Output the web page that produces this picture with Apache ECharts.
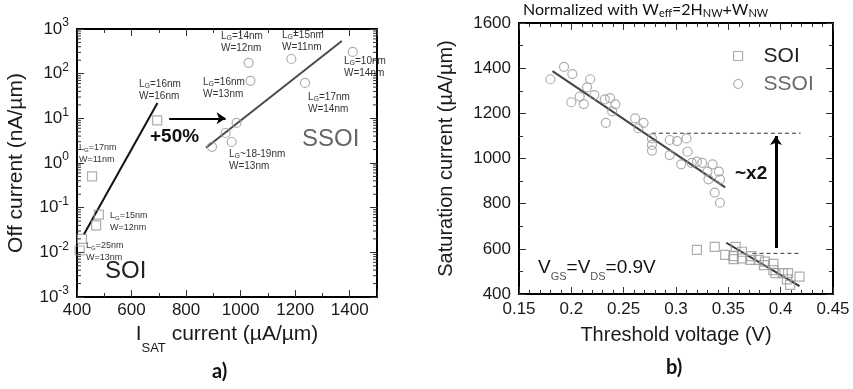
<!DOCTYPE html>
<html>
<head>
<meta charset="utf-8">
<script src="https://cdn.jsdelivr.net/npm/echarts@6/dist/echarts.min.js"></script>
<style>
  html, body { margin: 0; padding: 0; background: #fff; }
  #chart { width: 853px; height: 389px; }
</style>
</head>
<body>
<div id="chart"></div>
<script>
// ---------- panel a): off current vs. saturation current ----------
const aSoiIsat  = [694, 455, 480, 470, 418, 410];
const aSoiIoff  = [9, 0.5, 0.07, 0.04, 0.02, 0.011];
const aSsoiIsat = [895, 945, 985, 967, 1029, 1036, 1186, 1236, 1411];
const aSsoiIoff = [2.3, 4.7, 7.9, 2.95, 175, 69, 213, 62, 306];
const aSoiFitIsat  = [425, 695];
const aSoiFitIoff  = [0.025, 22];
const aSsoiFitIsat = [873, 1371];
const aSsoiFitIoff = [2.2, 540];
const aGainIsat = [738, 945];
const aGainIoff = [10, 10];
const aDecades = [-3, -2, -1, 0, 1, 2, 3];

// ---------- panel b): saturation current vs. threshold voltage ----------
const bSsoiVt = [0.180, 0.193, 0.201, 0.218, 0.215, 0.208, 0.200, 0.212, 0.222, 0.232,
                 0.237, 0.242, 0.239, 0.233, 0.261, 0.264, 0.269, 0.277, 0.277, 0.277,
                 0.294, 0.301, 0.310, 0.311, 0.294, 0.305, 0.315, 0.320, 0.325, 0.335,
                 0.330, 0.341, 0.331, 0.342, 0.337, 0.342];
const bSsoiIsat = [1351, 1406, 1374, 1351, 1315, 1274, 1249, 1241, 1281, 1262,
                   1267, 1240, 1209, 1158, 1178, 1134, 1158, 1089, 1060, 1035,
                   1082, 1077, 1089, 1030, 1015, 974, 981, 986, 981, 974,
                   942, 942, 908, 908, 849, 804];
const bSoiVt = [0.320, 0.337, 0.357, 0.347, 0.355, 0.355, 0.363, 0.363, 0.372, 0.371,
                0.379, 0.385, 0.384, 0.393, 0.393, 0.395, 0.402, 0.407, 0.418, 0.406,
                0.409];
const bSoiIsat = [595, 609, 609, 573, 568, 554, 587, 558, 568, 551,
                  551, 543, 528, 533, 506, 492, 492, 492, 477, 465,
                  440];
const bSoiFitVt    = [0.348, 0.418];
const bSoiFitIsat  = [627, 435];
const bSsoiFitVt   = [0.182, 0.347];
const bSsoiFitIsat = [1387, 872];
const bSsoiLevelVt   = [0.277, 0.419];
const bSsoiLevelIsat = [1112, 1112];
const bSoiLevelVt    = [0.373, 0.419];
const bSoiLevelIsat  = [580, 580];
const bRatioVt   = [0.3955, 0.3955];
const bRatioIsat = [604, 1100];

const zip = (xs, ys) => xs.map((x, i) => [x, ys[i]]);

const FONT = 'Liberation Sans';
const CAL = 'Lato';
const INK = '#1a1a1a';
const MARK = '#9a9a9a';
const TICK = '#333';

// axis ranges
const aX = { min: 400, max: 1500, interval: 200 };
const aY = { min: 1e-3, max: 1e3 };
const bX = { min: 0.15, max: 0.45, interval: 0.05 };
const bY = { min: 400, max: 1600, interval: 200 };

// intermediate log ticks (2..9 x 10^k) for panel a)
const logMinor = [];
for (let k = aDecades[0]; k < aDecades[aDecades.length - 1]; k++) {
  for (let m = 2; m <= 9; m++) logMinor.push([aX.min, m * Math.pow(10, k)]);
}

const plainNumber = v => String(Math.round(v * 1000) / 1000);
const boxLine = () => ({ show: true, onZero: false, lineStyle: { color: '#000', width: 2 } });

function frameAxis(extra) {
  return Object.assign({
    axisLine: boxLine(),
    axisTick: { show: true, inside: true, length: 7, lineStyle: { color: TICK, width: 1 } },
    minorTick: { show: true, splitNumber: 2, length: 4, lineStyle: { color: TICK, width: 1 } },
    splitLine: { show: false },
    minorSplitLine: { show: false },
    axisLabel: { show: false }
  }, extra);
}

const tickFont = { fontFamily: FONT, color: INK, formatter: plainNumber };

const option = {
  animation: false,
  backgroundColor: '#fff',
  grid: [
    { left: 77, top: 29, width: 300, height: 268 },
    { left: 519, top: 23, width: 314, height: 271 }
  ],
  legend: {
    orient: 'vertical',
    left: 728,
    top: 40,
    itemWidth: 9,
    itemHeight: 9,
    itemGap: 6,
    selectedMode: false,
    textStyle: { fontFamily: FONT, fontSize: 21, padding: [0, 0, 0, 16], lineHeight: 22 },
    data: [
      { name: 'SOI', icon: 'rect', textStyle: { color: '#222' },
        itemStyle: { color: 'rgba(0,0,0,0)', borderColor: MARK, borderWidth: 1.2 } },
      { name: 'SSOI', icon: 'circle', textStyle: { color: '#6a6a6a' },
        itemStyle: { color: 'rgba(0,0,0,0)', borderColor: MARK, borderWidth: 1.2 } }
    ]
  },
  xAxis: [
    frameAxis({
      gridIndex: 0, type: 'value', position: 'bottom',
      min: aX.min, max: aX.max, interval: aX.interval,
      axisLabel: Object.assign({ show: true, fontSize: 17, margin: 5, showMaxLabel: false }, tickFont),
      name: '{m|I}{s|SAT}{m| current (µA/µm)}',
      nameLocation: 'middle', nameGap: -1,
      nameTextStyle: {
        rich: {
          m: { fontFamily: FONT, fontSize: 21, color: INK },
          s: { fontFamily: FONT, fontSize: 13, color: INK, padding: [29, 0, 0, 0] }
        }
      }
    }),
    frameAxis({ gridIndex: 0, type: 'value', position: 'top', min: aX.min, max: aX.max, interval: aX.interval }),
    frameAxis({
      gridIndex: 1, type: 'value', position: 'bottom',
      min: bX.min, max: bX.max, interval: bX.interval,
      minorTick: { show: true, splitNumber: 5, length: 4, lineStyle: { color: TICK, width: 1 } },
      axisLabel: Object.assign({ show: true, fontSize: 17, margin: 7 }, tickFont),
      name: 'Threshold voltage (V)',
      nameLocation: 'middle', nameGap: 29,
      nameTextStyle: { fontFamily: FONT, fontSize: 20, color: INK, lineHeight: 24 }
    }),
    frameAxis({
      gridIndex: 1, type: 'value', position: 'top',
      min: bX.min, max: bX.max, interval: bX.interval,
      minorTick: { show: true, splitNumber: 5, length: 4, lineStyle: { color: TICK, width: 1 } }
    })
  ],
  yAxis: [
    frameAxis({
      gridIndex: 0, type: 'log', logBase: 10, position: 'left',
      min: aY.min, max: aY.max,
      minorTick: { show: false },
      axisLabel: {
        show: true, margin: 8,
        formatter: v => '{b|10}{e|' + Math.round(Math.log10(v)) + '}',
        rich: {
          b: { fontFamily: FONT, fontSize: 17, color: INK },
          e: { fontFamily: FONT, fontSize: 12, color: INK, padding: [0, 0, 12, 0] }
        }
      },
      name: 'Off current (nA/µm)',
      nameLocation: 'middle', nameGap: 49,
      nameTextStyle: { fontFamily: FONT, fontSize: 21, color: INK, lineHeight: 24 }
    }),
    frameAxis({ gridIndex: 0, type: 'log', logBase: 10, position: 'right', min: aY.min, max: aY.max, minorTick: { show: false } }),
    frameAxis({
      gridIndex: 1, type: 'value', position: 'left',
      min: bY.min, max: bY.max, interval: bY.interval,
      axisLabel: Object.assign({ show: true, fontSize: 17, margin: 8 }, tickFont),
      name: 'Saturation current (µA/µm)',
      nameLocation: 'middle', nameGap: 61,
      nameTextStyle: { fontFamily: FONT, fontSize: 20, color: INK, lineHeight: 24 }
    }),
    frameAxis({ gridIndex: 1, type: 'value', position: 'right', min: bY.min, max: bY.max, interval: bY.interval })
  ],
  series: [
    // ---- panel a)
    {
      name: 'SOI', type: 'scatter', xAxisIndex: 0, yAxisIndex: 0,
      data: zip(aSoiIsat, aSoiIoff), symbol: 'rect', symbolSize: 9,
      itemStyle: { color: 'rgba(0,0,0,0)', borderColor: MARK, borderWidth: 1.2 }, z: 3
    },
    {
      name: 'SSOI', type: 'scatter', xAxisIndex: 0, yAxisIndex: 0,
      data: zip(aSsoiIsat, aSsoiIoff), symbol: 'circle', symbolSize: 9,
      itemStyle: { color: 'rgba(0,0,0,0)', borderColor: MARK, borderWidth: 1.2 }, z: 3
    },
    {
      name: 'SOI trend', type: 'line', xAxisIndex: 0, yAxisIndex: 0,
      data: zip(aSoiFitIsat, aSoiFitIoff), showSymbol: false, silent: true,
      lineStyle: { color: '#111', width: 2 }, z: 2
    },
    {
      name: 'SSOI trend', type: 'line', xAxisIndex: 0, yAxisIndex: 0,
      data: zip(aSsoiFitIsat, aSsoiFitIoff), showSymbol: false, silent: true,
      lineStyle: { color: '#4a4a4a', width: 2 }, z: 2
    },
    {
      name: 'gain', type: 'lines', coordinateSystem: 'cartesian2d', xAxisIndex: 0, yAxisIndex: 0,
      data: [{ coords: zip(aGainIsat, aGainIoff) }],
      symbol: ['none', 'arrow'], symbolSize: 9, silent: true,
      lineStyle: { color: '#000', width: 2, opacity: 1 }, z: 4
    },
    {
      name: 'log ticks', type: 'custom', xAxisIndex: 0, yAxisIndex: 0, silent: true,
      data: logMinor, clip: false, z: 10,
      renderItem: (params, api) => {
        const v = api.value(1);
        const l = api.coord([aX.min, v]);
        const r = api.coord([aX.max, v]);
        return {
          type: 'group',
          children: [
            { type: 'line', shape: { x1: l[0], y1: l[1], x2: l[0] + 4, y2: l[1] }, style: { stroke: TICK, lineWidth: 1 } },
            { type: 'line', shape: { x1: r[0] - 4, y1: r[1], x2: r[0], y2: r[1] }, style: { stroke: TICK, lineWidth: 1 } }
          ]
        };
      }
    },
    // ---- panel b)
    {
      name: 'SOI', type: 'scatter', xAxisIndex: 2, yAxisIndex: 2,
      data: zip(bSoiVt, bSoiIsat), symbol: 'rect', symbolSize: 9,
      itemStyle: { color: 'rgba(0,0,0,0)', borderColor: MARK, borderWidth: 1.2 }, z: 3
    },
    {
      name: 'SSOI', type: 'scatter', xAxisIndex: 2, yAxisIndex: 2,
      data: zip(bSsoiVt, bSsoiIsat), symbol: 'circle', symbolSize: 9,
      itemStyle: { color: 'rgba(0,0,0,0)', borderColor: MARK, borderWidth: 1.2 }, z: 3
    },
    {
      name: 'SOI trend b', type: 'line', xAxisIndex: 2, yAxisIndex: 2,
      data: zip(bSoiFitVt, bSoiFitIsat), showSymbol: false, silent: true,
      lineStyle: { color: '#333', width: 2 }, z: 2
    },
    {
      name: 'SSOI trend b', type: 'line', xAxisIndex: 2, yAxisIndex: 2,
      data: zip(bSsoiFitVt, bSsoiFitIsat), showSymbol: false, silent: true,
      lineStyle: { color: '#444', width: 2 }, z: 2
    },
    {
      name: 'SSOI level', type: 'line', xAxisIndex: 2, yAxisIndex: 2,
      data: zip(bSsoiLevelVt, bSsoiLevelIsat), showSymbol: false, silent: true,
      lineStyle: { color: '#333', width: 1, type: [4, 3] }, z: 2
    },
    {
      name: 'SOI level', type: 'line', xAxisIndex: 2, yAxisIndex: 2,
      data: zip(bSoiLevelVt, bSoiLevelIsat), showSymbol: false, silent: true,
      lineStyle: { color: '#333', width: 1, type: [4, 3] }, z: 2
    },
    {
      name: 'ratio', type: 'lines', coordinateSystem: 'cartesian2d', xAxisIndex: 2, yAxisIndex: 2,
      data: [{ coords: zip(bRatioVt, bRatioIsat) }],
      symbol: ['none', 'arrow'], symbolSize: 9, silent: true,
      lineStyle: { color: '#000', width: 3, opacity: 1 }, z: 4
    }
  ],
  graphic: []
};

// small device annotations in panel a)
const noteRich = size => ({
  g: { fontFamily: FONT, fontSize: size - 3, fill: '#333', padding: [5, 0, 0, 0] },
  t: { fontFamily: FONT, fontSize: size, fill: '#333', lineHeight: 12 }
});
const notes = [
  ['{t|L}{g|G}{t|=16nm}\n{t|W=16nm}', 139, 78, 10],
  ['{t|L}{g|G}{t|=17nm}\n{t|W=11nm}', 79, 142, 9],
  ['{t|L}{g|G}{t|=14nm}\n{t|W=12nm}', 221, 30, 10],
  ['{t|L}{g|G}{t|=15nm}\n{t|W=11nm}', 282, 29, 10],
  ['{t|L}{g|G}{t|=16nm}\n{t|W=13nm}', 203, 76, 10],
  ['{t|L}{g|G}{t|=10nm}\n{t|W=14nm}', 344, 55, 10],
  ['{t|L}{g|G}{t|=17nm}\n{t|W=14nm}', 308, 91, 10],
  ['{t|L}{g|G}{t|~18-19nm}\n{t|W=13nm}', 229, 148, 10],
  ['{t|L}{g|G}{t|=15nm}\n{t|W=12nm}', 110, 210, 9],
  ['{t|L}{g|G}{t|=25nm}\n{t|W=13nm}', 86, 240, 9]
];
notes.forEach(([text, x, y, size]) => {
  option.graphic.push({
    type: 'text', x, y, silent: true,
    style: { text, rich: noteRich(size), verticalAlign: 'top', align: 'left' }
  });
});

const plainText = (text, x, y, size, fill, weight, family) => ({
  type: 'text', x, y, silent: true,
  style: { text, fontFamily: family || FONT, fontSize: size, fontWeight: weight || 'normal', fill, verticalAlign: 'top', align: 'left' }
});

option.graphic.push(
  plainText('+50%', 150, 127, 19, '#111', 'bold'),
  plainText('SSOI', 302, 127, 24, '#666'),
  plainText('SOI', 105, 259, 24, '#222'),
  plainText('~x2', 735, 164, 19, '#111', 'bold'),
  plainText('a)', 212, 362, 20, '#111', 'bold', CAL),
  plainText('b)', 666, 358, 20, '#111', 'bold', CAL),
  {
    type: 'text', x: 523, y: 0, silent: true,
    style: {
      text: '{n|Normalized with W}{s|eff}{n|=2H}{s|NW}{n|+W}{s|NW}',
      verticalAlign: 'top', align: 'left',
      rich: {
        n: { fontFamily: CAL, fontSize: 16, fill: '#111' },
        s: { fontFamily: CAL, fontSize: 11, fill: '#111', padding: [8, 0, 0, 0] }
      }
    }
  },
  {
    type: 'text', x: 538, y: 253, silent: true,
    style: {
      text: '{v|V}{s|GS}{v|=V}{s|DS}{v|=0.9V}',
      verticalAlign: 'top', align: 'left',
      rich: {
        v: { fontFamily: FONT, fontSize: 19, fill: '#111' },
        s: { fontFamily: FONT, fontSize: 11, fill: '#555', padding: [18, 0, 0, 0] }
      }
    }
  }
);

const chart = echarts.init(document.getElementById('chart'), null, { renderer: 'canvas' });
chart.setOption(option);
</script>
</body>
</html>
